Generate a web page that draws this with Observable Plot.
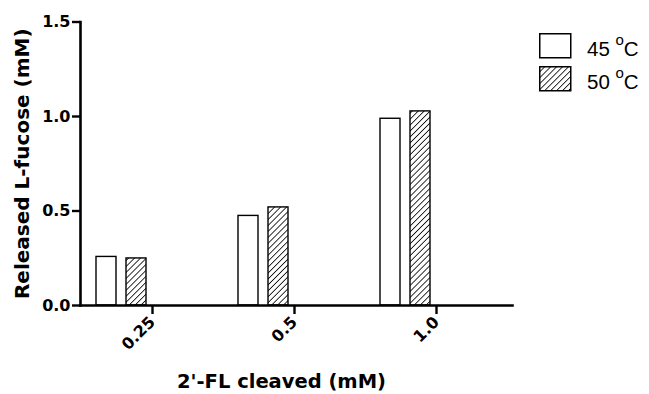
<!DOCTYPE html>
<html>
<head>
<meta charset="utf-8">
<script src="https://cdn.jsdelivr.net/npm/d3@7"></script>
<script src="https://cdn.jsdelivr.net/npm/@observablehq/plot@0.6"></script>
<style>
  html, body { margin: 0; padding: 0; background: #fff; }
  #wrap { position: relative; width: 649px; height: 394px; font-family: "Liberation Sans", Arial, sans-serif; }
  .leg { position: absolute; left: 539px; height: 25px; color: #000; }
  .leg svg { position: absolute; left: 0; top: 0; }
  .leg span { position: absolute; left: 48px; top: 6px; font-size: 20.5px; line-height: 20px; white-space: nowrap; }
  .leg sup { font-size: 15px; line-height: 0; position: relative; top: -3px; vertical-align: super; }
</style>
</head>
<body>
<div id="wrap"></div>
<script>
const categories = ["0.25", "0.5", "1.0"];
const series = ["45 °C", "50 °C"];
const values45 = [0.257, 0.474, 0.988];
const values50 = [0.249, 0.519, 1.027];
const yTicks = [0, 0.5, 1.0, 1.5];
const xLabel = "2'-FL cleaved (mM)";
const yLabel = "Released L-fucose (mM)";

const d45 = categories.map((c, i) => ({cat: c, value: values45[i]}));
const d50 = categories.map((c, i) => ({cat: c, value: values50[i]}));

const boldFont = "DejaVu Sans, Verdana, sans-serif";

const chart = Plot.plot({
  width: 649,
  height: 394,
  marginLeft: 80,
  marginRight: 137,
  marginTop: 21.5,
  marginBottom: 89,
  style: {fontFamily: boldFont, background: "white", color: "black"},
  x: {type: "band", domain: categories, range: [81, 507], padding: 0},
  y: {domain: [0, 1.5]},
  marks: [
    Plot.barY(d45, {x: "cat", y: "value", fill: "white", stroke: "black", strokeWidth: 1.4, insetLeft: 15, insetRight: 107}),
    Plot.barY(d50, {x: "cat", y: "value", fill: "url(#hatch)", stroke: "black", strokeWidth: 1.4, insetLeft: 45, insetRight: 77}),
    Plot.frame({anchor: "left", stroke: "black", strokeWidth: 2.6}),
    Plot.frame({anchor: "bottom", stroke: "black", strokeWidth: 2.6}),
    Plot.axisY({ticks: yTicks, tickFormat: d3.format(".1f"), tickSize: 8, tickPadding: 2, strokeWidth: 2.4, fontSize: 16, fontWeight: "bold", label: null}),
    Plot.axisX({tickSize: 9, tickPadding: 5, strokeWidth: 2.4, tickRotate: -45, fontSize: 16, fontWeight: "bold", label: null}),
    Plot.text([xLabel], {frameAnchor: "bottom", textAnchor: "middle", dx: -15, dy: 82, lineAnchor: "bottom", fontSize: 19.5, fontWeight: "bold"}),
    Plot.text([yLabel], {frameAnchor: "left", textAnchor: "middle", dx: -58, rotate: -90, fontSize: 20, fontWeight: "bold"})
  ]
});

// hatch pattern definition
const defs = document.createElementNS("http://www.w3.org/2000/svg", "defs");
defs.innerHTML = `<pattern id="hatch" patternUnits="userSpaceOnUse" width="4.2" height="4.2" patternTransform="rotate(45)">
  <rect width="4.2" height="4.2" fill="white"/>
  <line x1="0" y1="0" x2="0" y2="4.2" stroke="black" stroke-width="1.6"/>
</pattern>`;
chart.insertBefore(defs, chart.firstChild);

const wrap = document.getElementById("wrap");
wrap.appendChild(chart);

// legend
const tops = [33, 66];
const fills = ["white", "url(#hatch)"];
series.forEach((s, i) => {
  const div = document.createElement("div");
  div.className = "leg";
  div.style.top = tops[i] + "px";
  const [num, unit] = s.split(" ");
  div.innerHTML = `<svg width="33" height="26"><rect x="0.75" y="0.75" width="31" height="24" fill="${fills[i]}" stroke="black" stroke-width="1.5"/></svg><span>${num} <sup>o</sup>${unit.replace("°", "")}</span>`;
  wrap.appendChild(div);
});
</script>
</body>
</html>
